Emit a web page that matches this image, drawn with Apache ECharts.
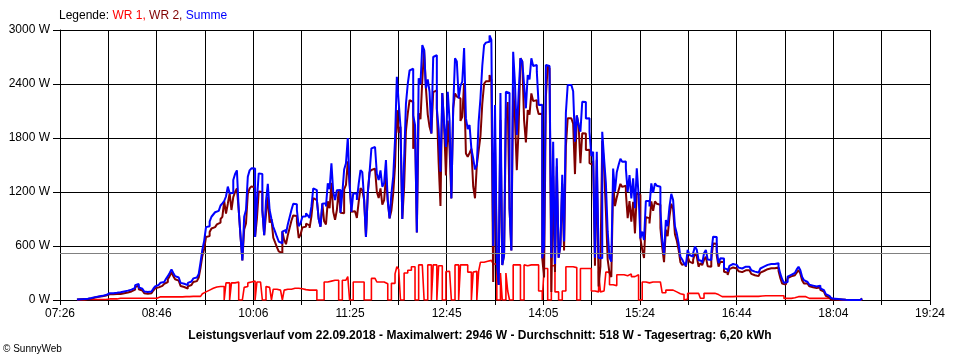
<!DOCTYPE html>
<html><head><meta charset="utf-8">
<script src="https://cdn.jsdelivr.net/npm/echarts@6/dist/echarts.min.js"></script>
<style>html,body{margin:0;padding:0;background:#fff}#c{width:960px;height:360px}</style>
</head><body><div id="c"></div><script>
// time axis (minutes since midnight)
const axisStart = 446;   // 07:26
const axisEnd = 1164;    // 19:24
const tickLabels = ['07:26','08:46','10:06','11:25','12:45','14:05','15:24','16:44','18:04','19:24'];
const startMinute = 460; // first sample 07:40
const stepMinutes = 1.5;
const average = 518;

const summe = [
5,6, 8,9, 10,12, 15,18, 22,27, 32,36, 40,43, 46,50, 55,70, 75,76,
76,78, 80,83, 86,90, 95,100, 104,110, 115,122, 135,165, 178,140, 125,105, 95,88,
88,95, 103,125, 150,168, 180,192, 200,215, 235,265, 300,340, 300,265, 250,235, 190,180,
175,165, 190,205, 220,240, 250,265, 290,420, 560,660, 810,820, 870,925, 950,975, 990,1010,
1050,1074, 1100,1150, 1260,1185, 1190,1333, 1400,1440, 1000,703, 440,925, 1000,1370, 1440,1463, 1460,700,
1100,1407, 1400,1000, 720,1100, 1290,1000, 900,814, 760,703, 650,630, 760,778, 740,840, 920,1000,
1070,1063, 1000,820, 850,925, 930,963, 940,911, 1040,1241, 1220,1111, 900,814, 1070,1074, 1040,1296,
1230,1518, 1200,1111, 1220,1222, 970,1185, 1450,1518, 1800,1296, 980,1185, 1180,1111, 1290,1444, 1420,1111,
700,1185, 1420,1685, 1700,1722, 1400,1333, 1440,1259, 1300,1555, 1100,907, 1180,1370, 1780,2480, 2200,1925,
900,1555, 2180,2400, 2550,2570, 2050,1944, 750,2463, 2400,2833, 2780,2352, 2450,2314, 1850,2700, 2720,2130,
1900,1425, 2300,1944, 1700,2314, 2000,1129, 2130,2685, 2650,2240, 2380,2426, 2800,2018, 1900,1944, 1680,1574,
1450,1500, 1980,2240, 2600,2833, 2860,2870, 2940,2889, 600,2167, 450,167, 2300,389, 500,2314, 2300,1018,
550,2759, 2400,1833, 2300,2685, 2650,2389, 2130,2500, 2450,2685, 2600,2611, 2540,2167, 2170,463, 600,2611,
2600,2574, 470,1759, 400,1574, 470,611, 1390,650, 2080,2389, 2390,2389, 2320,1759, 2050,1944, 1870,2203,
2200,2018, 2020,1870, 1600,1648, 470,1648, 470,463, 1870,1574, 1300,759, 470,426, 1460,1203, 1420,1500,
1570,1537, 1540,1463, 1200,1389, 1130,1352, 1020,1463, 1170,685, 760,667, 1100,1100, 1040,1296, 1190,1296,
1270,1259, 1000,667, 500,889, 820,1037, 1180,1111, 820,741, 630,481, 450,407, 380,556, 500,481,
520,593, 560,444, 430,407, 520,556, 450,444, 520,703, 700,556, 410,463, 460,352, 340,315,
380,400, 420,390, 370,360, 350,360, 370,370, 370,350, 330,315, 305,305, 315,350, 370,380,
390,398, 400,398, 400,415, 410,370, 290,230, 190,200, 260,280, 290,300, 315,340, 370,330,
255,220, 200,185, 170,160, 150,150, 155,160, 130,110, 90,65, 45,30, 20,15, 12,10,
8,6, 5,2, 0,0, 0,0, 0,0, 0,0,
18];

const wr1 = [
0,0, 0,0, 0,3, 5,5, 5,5, 5,5, 5,5, 5,5, 5,8, 12,12,
12,12, 12,15, 20,20, 20,20, 20,20, 20,20, 20,20, 20,20, 20,20, 20,20,
20,20, 20,20, 20,28, 35,35, 35,35, 35,35, 35,35, 35,35, 35,35, 35,36,
38,38, 38,38, 40,40, 40,40, 40,60, 70,90, 110,110, 115,130, 140,145, 150,150,
150,150, 0,190, 190,0, 190,190, 200,200, 0,0, 0,140, 150,190, 200,200, 210,0,
200,200, 200,0, 0,150, 140,140, 0,120, 120,115, 110,110, 0,110, 120,120, 120,120,
130,130, 130,130, 125,120, 115,115, 110,110, 110,110, 110,0, 0,0, 0,200, 200,200,
210,215, 220,220, 220,0, 0,220, 220,240, 260,0, 0,200, 200,200, 200,200, 200,0,
0,0, 0,240, 240,240, 200,200, 200,200, 190,180, 0,0, 185,185, 290,370, 340,0,
0,300, 300,330, 330,370, 370,0, 0,390, 390,390, 0,0, 390,390, 0,390, 390,0,
380,380, 0,0, 315,320, 320,0, 0,390, 390,0, 390,390, 390,390, 310,310, 0,310,
320,0, 320,420, 420,430, 430,440, 440,440, 400,400, 0,0, 300,0, 0,300, 100,0,
0,390, 390,390, 390,0, 0,390, 380,390, 390,390, 390,390, 390,100, 100,0, 350,350,
0,0, 380,380, 90,90, 0,0, 100,100, 370,370, 370,370, 360,360, 0,0, 350,350,
350,350, 350,350, 100,100, 90,90, 320,90, 100,100, 310,310, 170,170, 160,160, 280,280,
280,280, 270,270, 290,290, 260,260, 280,280, 0,0, 200,200, 180,190, 190,200, 200,200,
200,200, 200,80, 80,110, 110,110, 110,100, 90,80, 70,60, 60,0, 10,74, 74,74,
74,74, 74,74, 20,20, 74,74, 74,74, 70,74, 74,60, 40,38, 38,38, 38,38,
38,38, 38,40, 40,40, 40,40, 40,40, 40,40, 40,40, 40,40, 40,45, 48,48,
48,48, 48,48, 48,48, 48,48, 48,48, 18,18, 18,18, 18,25, 37,37, 37,37,
37,37, 18,18, 18,18, 18,18, 18,18, 18,18, 18,18, 18,18, 18,10, 5,2,
0,0, 0,0, 0,0, 0,0, 0,0, 0,0,
0];

const wr2 = [
5,6, 8,9, 10,9, 10,13, 17,22, 27,31, 35,38, 41,45, 50,62, 63,64,
64,66, 68,68, 66,70, 75,80, 84,90, 95,102, 115,145, 158,120, 105,85, 75,68,
68,75, 83,105, 130,140, 145,157, 165,180, 200,230, 265,305, 265,230, 215,200, 155,144,
137,127, 152,167, 180,200, 210,225, 250,360, 490,570, 700,710, 755,795, 810,830, 840,860,
900,924, 1100,960, 1070,1185, 1000,1143, 1200,1240, 1000,703, 440,785, 850,1180, 1240,1263, 1250,700,
900,1207, 1200,1000, 720,950, 1150,860, 900,694, 640,588, 540,520, 760,668, 620,720, 800,880,
940,933, 870,690, 725,805, 815,848, 830,801, 930,1131, 1110,1111, 900,814, 1070,874, 840,1096,
1020,1303, 980,891, 1000,1222, 970,965, 1230,1278, 1540,1296, 980,985, 980,911, 1090,1244, 1220,1111,
700,1185, 1420,1445, 1460,1482, 1200,1133, 1240,1059, 1110,1375, 1100,907, 995,1185, 1490,2110, 1860,1925,
900,1255, 1880,2070, 2220,2200, 1680,1944, 750,2073, 2010,2443, 2780,2352, 2060,1924, 1850,2310, 2330,2130,
1520,1045, 2300,1944, 1385,1994, 1680,1129, 2130,2295, 2260,2240, 1990,2036, 2410,1628, 1590,1634, 1680,1264,
1130,1500, 1660,1820, 2180,2403, 2430,2430, 2500,2449, 200,1767, 450,167, 2000,389, 500,2014, 2200,1018,
550,2369, 2010,1443, 1910,2685, 2650,1999, 1750,2110, 2060,2295, 2210,2221, 2150,2067, 2070,463, 250,2261,
2600,2574, 90,1379, 310,1484, 470,611, 1290,550, 1710,2019, 2020,2019, 1960,1399, 2050,1944, 1520,1853,
1850,1668, 1670,1520, 1500,1548, 380,1558, 150,373, 1770,1474, 990,449, 300,256, 1300,1043, 1140,1220,
1290,1257, 1270,1193, 910,1099, 870,1092, 740,1183, 1170,685, 560,467, 920,910, 850,1096, 990,1096,
1070,1059, 800,587, 420,779, 710,927, 1070,1011, 730,661, 560,421, 390,407, 370,482, 426,407,
446,519, 486,370, 410,387, 446,482, 376,370, 450,629, 626,496, 370,425, 422,314, 302,277,
342,362, 382,350, 330,320, 310,320, 330,330, 330,310, 290,275, 265,265, 275,305, 322,332,
342,350, 352,350, 352,367, 362,322, 242,182, 172,182, 242,262, 272,275, 278,303, 333,293,
218,183, 182,167, 152,142, 132,132, 137,142, 112,92, 72,47, 27,12, 2,5, 7,8,
8,6, 5,2, 0,0, 0,0, 0,0, 0,0,
18];

const times = summe.map((_, i) => startMinute + i * stepMinutes);
const pairs = arr => arr.map((v, i) => [times[i], v]);
const FONT = 'Liberation Sans';
const tickStep = (axisEnd - axisStart) / 18;

const chart = echarts.init(document.getElementById('c'), null, {renderer: 'canvas'});
chart.setOption({
  animation: false,
  backgroundColor: '#ffffff',
  textStyle: {fontFamily: FONT},
  title: [
    {text: '{k|Legende: }{a|WR 1, }{b|WR 2, }{c|Summe}', left: 59, top: 10, padding: 0,
     textStyle: {fontSize: 12, fontWeight: 'normal', fontFamily: FONT,
       rich: {k: {color: '#000', fontSize: 12, fontFamily: FONT}, a: {color: '#ff0000', fontSize: 12, fontFamily: FONT},
              b: {color: '#800000', fontSize: 12, fontFamily: FONT}, c: {color: '#0000ff', fontSize: 12, fontFamily: FONT}}}},
    {text: 'Leistungsverlauf vom 22.09.2018 - Maximalwert: 2946 W - Durchschnitt: 518 W - Tagesertrag: 6,20 kWh',
     left: 'center', top: 330, padding: 0,
     textStyle: {fontSize: 12, fontWeight: 'bold', color: '#000', fontFamily: FONT}},
    {text: '© SunnyWeb', left: 3, top: 344, padding: 0,
     textStyle: {fontSize: 10, fontWeight: 'normal', color: '#000', fontFamily: FONT}}
  ],
  grid: {left: 60, right: 30, top: 30, bottom: 60, containLabel: false},
  xAxis: {
    type: 'value', min: axisStart, max: axisEnd, interval: tickStep,
    axisLine: {show: true, lineStyle: {color: '#000', width: 1}},
    axisTick: {show: true, length: 5, lineStyle: {color: '#000'}},
    splitLine: {show: true, lineStyle: {color: '#000', width: 1}},
    axisLabel: {color: '#000', fontSize: 12, fontFamily: FONT, margin: 8, showMinLabel: true, showMaxLabel: true,
      formatter: v => { const k = Math.round((v - axisStart) / tickStep); return k % 2 === 0 ? (tickLabels[k / 2] || '') : ''; }}
  },
  yAxis: {
    type: 'value', min: 0, max: 3000, interval: 600,
    axisLine: {show: true, lineStyle: {color: '#000', width: 1}},
    axisTick: {show: true, length: 7, lineStyle: {color: '#000'}},
    splitLine: {show: true, lineStyle: {color: '#000', width: 1}},
    axisLabel: {color: '#000', fontSize: 12, fontFamily: FONT, margin: 10, formatter: v => v + ' W'}
  },
  series: [
    {name: 'WR 1', type: 'line', step: 'start', data: pairs(wr1), showSymbol: false, z: 2,
     lineStyle: {color: '#ff0000', width: 1.6}, itemStyle: {color: '#ff0000'},
     markLine: {silent: true, symbol: 'none', label: {show: false}, animation: false,
       lineStyle: {color: '#808080', type: 'solid', width: 1.2}, data: [{yAxis: average}]}},
    {name: 'WR 2', type: 'line', step: 'start', data: pairs(wr2), showSymbol: false, z: 3,
     lineStyle: {color: '#800000', width: 2}, itemStyle: {color: '#800000'}},
    {name: 'Summe', type: 'line', step: 'start', data: pairs(summe), showSymbol: false, z: 4,
     lineStyle: {color: '#0000ff', width: 2}, itemStyle: {color: '#0000ff'}}
  ]
});
</script></body></html>
